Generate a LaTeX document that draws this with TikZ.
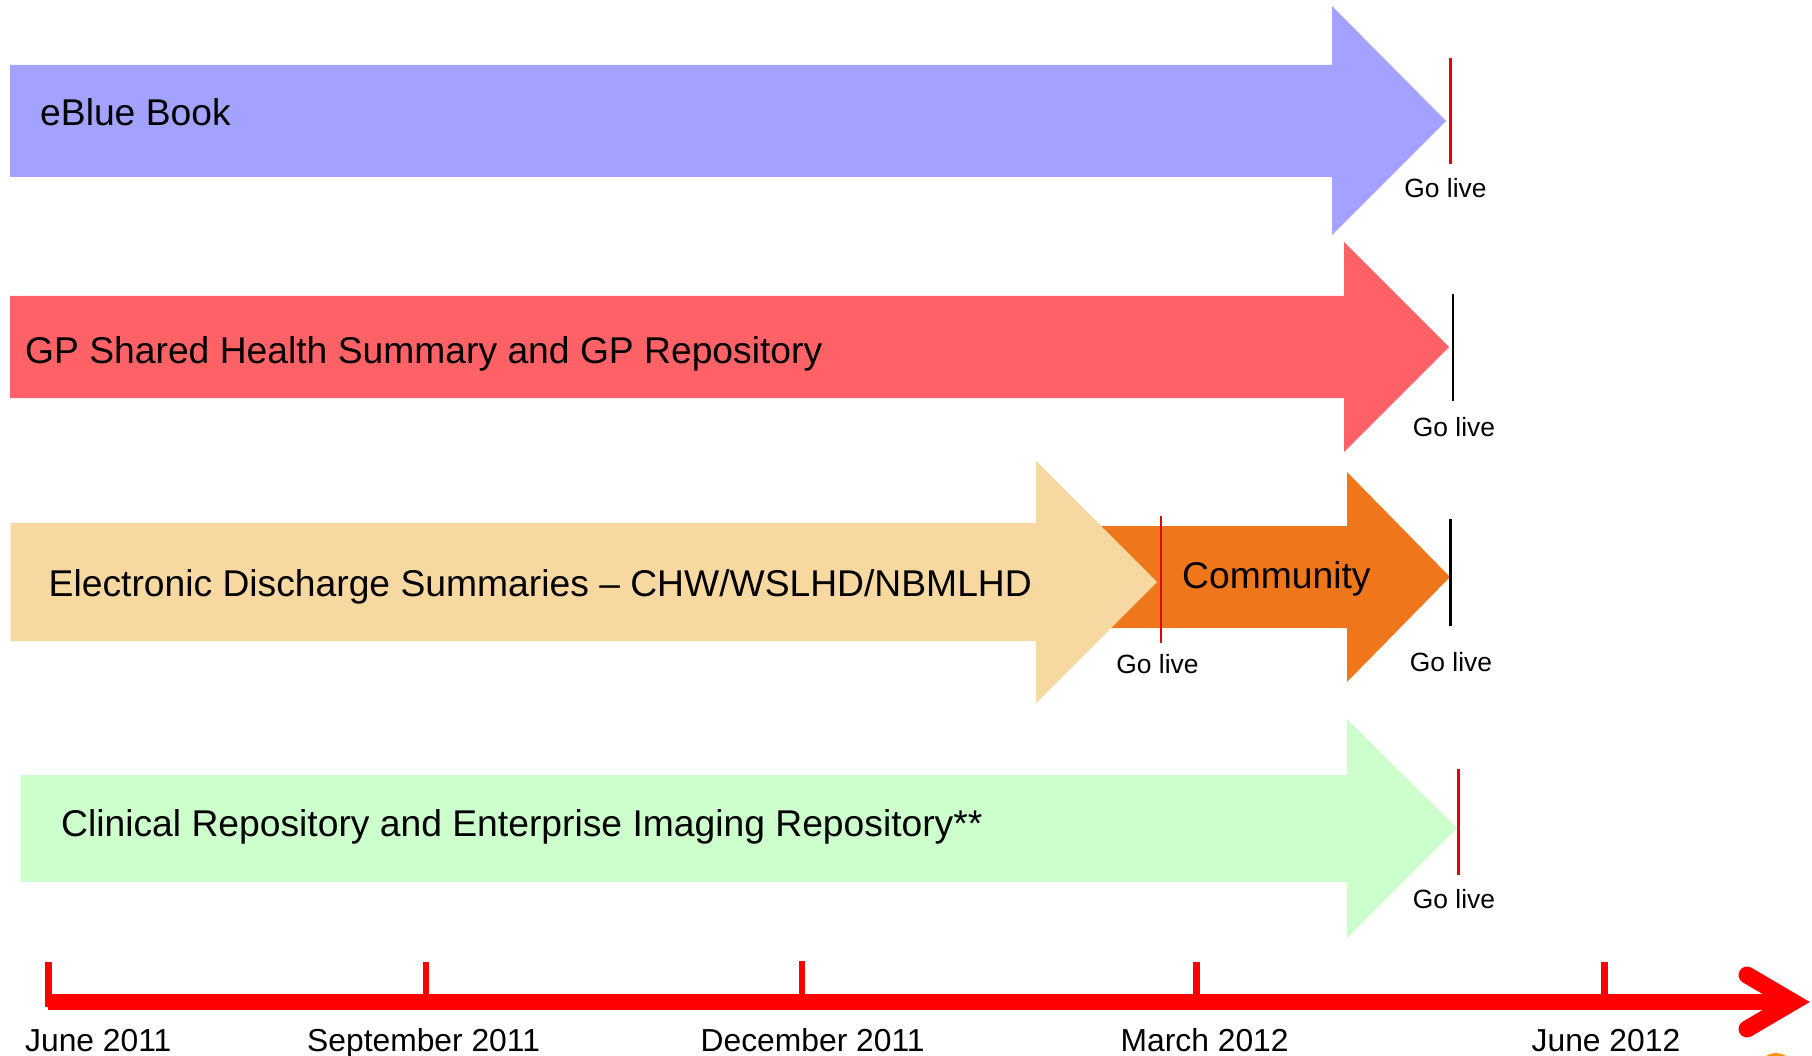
\documentclass[tikz,border=0pt]{standalone}
\usepackage{fontspec}
\setmainfont{Liberation Sans}
\definecolor{cblue}{HTML}{A3A3FF}
\definecolor{cred}{HTML}{FF6266}
\definecolor{ctan}{HTML}{F8D8A1}
\definecolor{corange}{HTML}{F0761C}
\definecolor{cgreen}{HTML}{CCFFCC}
\definecolor{lred}{HTML}{E00010}
\definecolor{axisred}{HTML}{FF0000}
\tikzset{
  x=1pt,y=-1pt,
  band/.style={inner sep=0pt,anchor=base west,font=\fontsize{37.25}{37.25}\selectfont,text=black},
  golabel/.style={inner sep=0pt,anchor=base,font=\fontsize{26.4}{26.4}\selectfont,text=black},
  datelabel/.style={inner sep=0pt,anchor=base west,font=\fontsize{31.8}{31.8}\selectfont,text=black},
  tick/.style={draw=axisred,line width=6.5pt},
}
\begin{document}
\begin{tikzpicture}
\useasboundingbox (0,0) rectangle (1812,1056);
\fill[white] (0,0) rectangle (1812,1056);
% block arrows
\fill[cblue] (10,65) -- (1332,65) -- (1332,6) -- (1446,121) -- (1332,235) -- (1332,177) -- (10,177) -- cycle;
\fill[cred] (10,296) -- (1344,296) -- (1344,242) -- (1449,347) -- (1344,452) -- (1344,398) -- (10,398) -- cycle;
\fill[corange] (1090,526) -- (1347,526) -- (1347,472) -- (1450,577) -- (1347,682) -- (1347,628) -- (1090,628) -- cycle;
\fill[ctan] (10.5,523) -- (1036,523) -- (1036,461) -- (1157,582) -- (1036,703) -- (1036,641) -- (10.5,641) -- cycle;
\fill[cgreen] (20.5,775) -- (1347,775) -- (1347,719) -- (1457,828) -- (1347,938) -- (1347,882) -- (20.5,882) -- cycle;
% go-live markers
\coordinate (m1a) at (1450.5,58); \coordinate (m1b) at (1450.5,164);
\coordinate (m2a) at (1453,294);  \coordinate (m2b) at (1453,401);
\coordinate (m3a) at (1161,516);  \coordinate (m3b) at (1161,643);
\coordinate (m4a) at (1450.5,519);\coordinate (m4b) at (1450.5,626);
\coordinate (m5a) at (1458.5,769);\coordinate (m5b) at (1458.5,875);
\draw[lred,line width=3pt] (m1a) -- (m1b);
\draw[black,line width=2pt] (m2a) -- (m2b);
\draw[lred,line width=2pt] (m3a) -- (m3b);
\draw[black,line width=3pt] (m4a) -- (m4b);
\draw[lred,line width=3pt] (m5a) -- (m5b);
% band labels
\node[band] (t1) at (40,126) {eBlue Book};
\node[band] (t2) at (25,364) {GP Shared Health Summary and GP Repository};
\node[band] (t3) at (48.5,596) {Electronic Discharge Summaries – CHW/WSLHD/NBMLHD};
\node[band] (t4) at (1182,588) {Community};
\node[band] (t5) at (61,836) {Clinical Repository and Enterprise Imaging Repository**};
% go live labels
\node[golabel] (g1) at (1445.5,198) {Go live};
\node[golabel] (g2) at (1454,436.5) {Go live};
\node[golabel] (g3) at (1157.5,673) {Go live};
\node[golabel] (g4) at (1451,671) {Go live};
\node[golabel] (g5) at (1454,908) {Go live};
% time axis
\coordinate (a0) at (48,1002);
\coordinate (a1) at (1793,1002);
\draw[axisred,line width=16pt] (a0) -- (a1);
\draw[axisred,line width=17pt,line join=miter,line cap=round] (1747,975) -- (a1) -- (1747,1029);
\draw[tick] (48.5,962) -- (48.5,1007);
\draw[tick,line width=6pt] (425.5,962) -- (425.5,1002);
\draw[tick] (802,961) -- (802,1002);
\draw[tick] (1196.5,962) -- (1196.5,1002);
\draw[tick] (1604.5,962) -- (1604.5,1002);
\node[datelabel] (d1) at (25,1051.5) {June 2011};
\node[datelabel] (d2) at (307,1051.5) {September 2011};
\node[datelabel] (d3) at (700.5,1051.5) {December 2011};
\node[datelabel] (d4) at (1120.5,1051.5) {March 2012};
\node[datelabel] (d5) at (1531.5,1051.5) {June 2012};
% fragment at the lower edge
\begin{scope}
\clip (1700,1040) rectangle (1812,1056);
\fill[orange!85!yellow] (1776,1062) ellipse (13 and 9);
\end{scope}
\end{tikzpicture}
\end{document}
